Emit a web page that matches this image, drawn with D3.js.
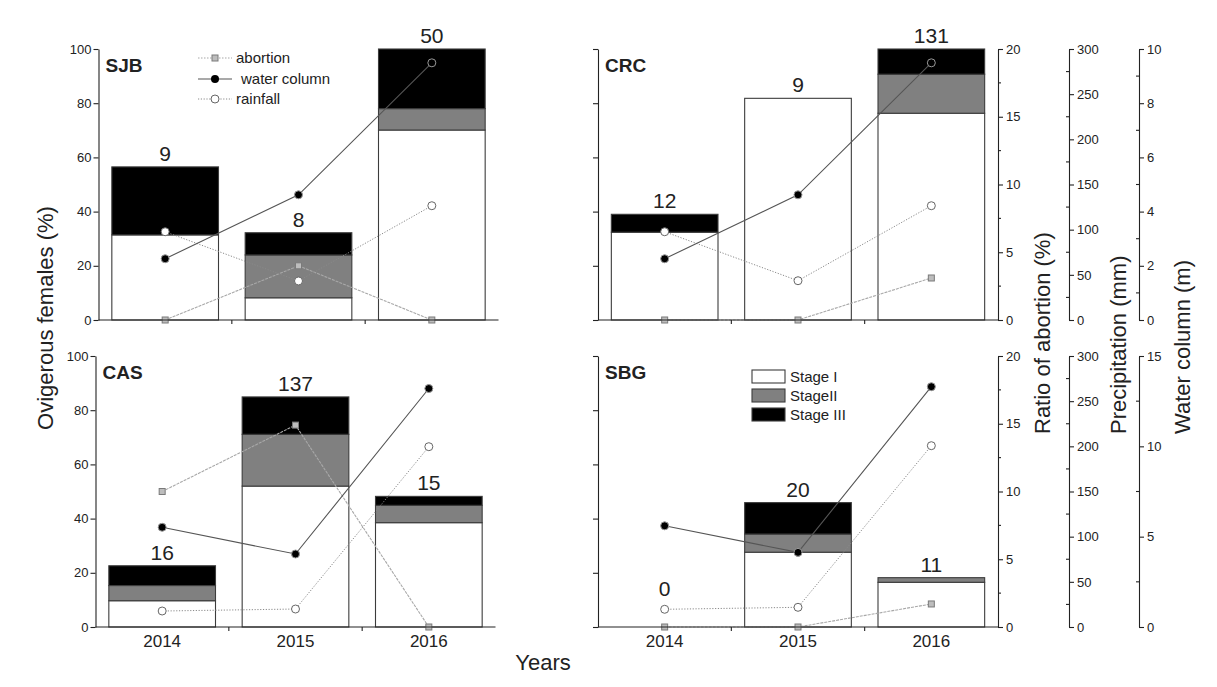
<!DOCTYPE html>
<html>
<head>
<meta charset="utf-8">
<script src="https://cdn.jsdelivr.net/npm/d3@7"></script>
<style>
  body { margin: 0; background: #fff; }
  text { font-family: "Liberation Sans", Arial, Helvetica, sans-serif; fill: #222; }
</style>
</head>
<body>
<svg id="chart" width="1217" height="687"></svg>
<script>
// ---- data -------------------------------------------------------------
const years = ["2014", "2015", "2016"];
const sites = ["SJB", "CRC", "CAS", "SBG"];

// ovigerous females (%) by embryonic stage, one row per site
const stageI   = [[31.4, 8.2, 70.1], [32.4, 81.8, 76.3], [9.7, 52.0, 38.5], [0, 27.6, 16.5]];
const stageII  = [[0, 15.8, 7.9],    [0, 0, 14.4],      [5.6, 19.1, 6.4],  [0, 6.7, 1.7]];
const stageIII = [[25.1, 8.2, 22.0], [6.6, 0, 9.3],     [7.3, 13.8, 3.3],  [0, 11.6, 0]];

// number of ovigerous females sampled
const sampleN = [[9, 8, 50], [12, 9, 131], [16, 137, 15], [0, 20, 11]];

// ratio of abortion (%), precipitation (mm) and water column (m)
const abortion    = [[0, 4.0, 0], [0, 0, 3.1], [10.0, 14.9, 0], [0, 0, 1.7]];
const rainfall    = [[97.7, 43.2, 126.5], [97.7, 43.5, 126.5], [17.7, 19.9, 199.6], [19.6, 21.8, 200.7]];
const waterColumn = [[2.26, 4.62, 9.49], [2.26, 4.62, 9.49], [5.52, 4.04, 13.2], [5.6, 4.13, 13.3]];

// axis ticks
const femaleTicks = [0, 20, 40, 60, 80, 100];
const ratioTicks = [0, 5, 10, 15, 20];
const precipTicks = [0, 50, 100, 150, 200, 250, 300];
const waterTicksTop = [0, 2, 4, 6, 8, 10];
const waterTicksBottom = [0, 5, 10, 15];

const stageNames = ["Stage I", "StageII", "Stage III"];
const stageColors = ["#ffffff", "#808080", "#000000"];

// ---- layout -----------------------------------------------------------
const W = 400, H = 271;
const panels = [
  { site: 0, x0: 98.5, y0: 49,  left: true,  bottom: false },
  { site: 1, x0: 598,  y0: 49,  left: false, bottom: false },
  { site: 2, x0: 95.5, y0: 356, left: true,  bottom: true },
  { site: 3, x0: 598,  y0: 356, left: false, bottom: true }
];
const precipX = 1069, waterX = 1139;

const svg = d3.select("#chart");
const axisColor = "#222";

function styleAxis(g, fontSize) {
  g.selectAll("path, line").attr("stroke", axisColor).attr("stroke-width", 1.1);
  g.selectAll("text").attr("font-size", fontSize).attr("fill", "#333")
    .style("font-family", '"Liberation Sans", Arial, sans-serif');
}

function minorTicks(g, scale, values, xPos, len) {
  g.selectAll(null).data(values).enter().append("line")
    .attr("x1", xPos).attr("x2", xPos + len)
    .attr("y1", d => scale(d)).attr("y2", d => scale(d))
    .attr("stroke", axisColor).attr("stroke-width", 1.1);
}

panels.forEach(p => {
  const s = p.site;
  const g = svg.append("g");
  const x = d3.scaleBand().domain(years).range([p.x0, p.x0 + W]).paddingInner(0.2).paddingOuter(0.1);
  const y = d3.scaleLinear().domain([0, 100]).range([p.y0 + H, p.y0]);
  const yAb = d3.scaleLinear().domain([0, 20]).range([p.y0 + H, p.y0]);
  const yPr = d3.scaleLinear().domain([0, 300]).range([p.y0 + H, p.y0]);
  const wTicks = p.bottom ? waterTicksBottom : waterTicksTop;
  const yWc = d3.scaleLinear().domain([0, d3.max(wTicks)]).range([p.y0 + H, p.y0]);

  // stacked bars
  const rows = years.map((yr, i) => ({ year: yr, s1: stageI[s][i], s2: stageII[s][i], s3: stageIII[s][i] }));
  const stacked = d3.stack().keys(["s1", "s2", "s3"])(rows);
  stacked.forEach((layer, li) => {
    g.selectAll(null).data(layer.filter(d => d[1] - d[0] > 0)).enter().append("rect")
      .attr("x", d => x(d.data.year))
      .attr("width", x.bandwidth())
      .attr("y", d => y(d[1]))
      .attr("height", d => y(d[0]) - y(d[1]))
      .attr("fill", stageColors[li])
      .attr("stroke", "#3c3c3c").attr("stroke-width", 1.1);
  });

  // sample sizes above bars
  const totals = rows.map(r => r.s1 + r.s2 + r.s3);
  g.selectAll(null).data(years).enter().append("text")
    .attr("x", d => x(d) + x.bandwidth() / 2)
    .attr("y", (d, i) => Math.min(y(totals[i]), y(0) - 25) - 6)
    .attr("text-anchor", "middle").attr("font-size", 21)
    .text((d, i) => sampleN[s][i]);

  // lines
  const cx = d => x(d) + x.bandwidth() / 2;
  const lineOf = (vals, sc) => d3.line().x((d, i) => cx(years[i])).y(d => sc(d))(vals);

  g.append("path").attr("d", lineOf(abortion[s], yAb))
    .attr("fill", "none").attr("stroke", "#a8a8a8").attr("stroke-width", 1.1).attr("stroke-dasharray", "3,1");
  g.append("path").attr("d", lineOf(rainfall[s], yPr))
    .attr("fill", "none").attr("stroke", "#8a8a8a").attr("stroke-width", 1).attr("stroke-dasharray", "1.2,1.6");
  g.append("path").attr("d", lineOf(waterColumn[s], yWc))
    .attr("fill", "none").attr("stroke", "#555").attr("stroke-width", 1.1);

  // markers
  g.selectAll(null).data(abortion[s]).enter().append("rect")
    .attr("x", (d, i) => cx(years[i]) - 3).attr("y", d => yAb(d) - 3)
    .attr("width", 6).attr("height", 6)
    .attr("fill", "#bdbdbd").attr("stroke", "#7a7a7a").attr("stroke-width", 1);
  g.selectAll(null).data(rainfall[s]).enter().append("circle")
    .attr("cx", (d, i) => cx(years[i])).attr("cy", d => yPr(d)).attr("r", 4)
    .attr("fill", "#fff").attr("stroke", "#666").attr("stroke-width", 1);
  g.selectAll(null).data(waterColumn[s]).enter().append("circle")
    .attr("cx", (d, i) => cx(years[i])).attr("cy", d => yWc(d)).attr("r", 4)
    .attr("fill", "#000").attr("stroke", "#9a9a9a").attr("stroke-width", 1);

  // left axis
  const ax = g.append("g").attr("transform", `translate(${p.x0},0)`)
    .call(d3.axisLeft(y).tickValues(femaleTicks).tickSize(5).tickSizeOuter(0).tickPadding(2)
      .tickFormat(p.left ? d3.format("d") : ""));
  styleAxis(ax, 13);

  // x axis: baseline with ticks between the years
  const base = p.y0 + H;
  g.append("line").attr("x1", p.x0).attr("x2", p.x0 + W).attr("y1", base).attr("y2", base)
    .attr("stroke", axisColor).attr("stroke-width", 1.1);
  g.selectAll(null).data(years.slice(1)).enter().append("line")
    .attr("x1", d => x(d) - x.step() * x.paddingInner() / 2)
    .attr("x2", d => x(d) - x.step() * x.paddingInner() / 2)
    .attr("y1", base).attr("y2", base + 4)
    .attr("stroke", axisColor).attr("stroke-width", 1.1);
  if (p.bottom) {
    g.selectAll(null).data(years).enter().append("text")
      .attr("x", d => cx(d)).attr("y", base + 20)
      .attr("text-anchor", "middle").attr("font-size", 17).attr("fill", "#222")
      .text(d => d);
  }

  // site name
  g.append("text").attr("x", p.x0 + 7).attr("y", p.y0 + 23)
    .attr("font-size", 19).attr("font-weight", "bold").attr("fill", "#111")
    .text(sites[s]);

  // secondary axes on the right-hand panels
  if (!p.left) {
    const rx = p.x0 + W;
    const a1 = g.append("g").attr("transform", `translate(${rx},0)`)
      .call(d3.axisRight(yAb).tickValues(ratioTicks).tickSize(5).tickSizeOuter(0).tickPadding(3));
    styleAxis(a1, 13);
    minorTicks(g, yAb, [2.5, 7.5, 12.5, 17.5], rx, 3);

    const a2 = g.append("g").attr("transform", `translate(${precipX},0)`)
      .call(d3.axisRight(yPr).tickValues(precipTicks).tickSize(5).tickSizeOuter(0).tickPadding(3));
    styleAxis(a2, 13);
    minorTicks(g, yPr, [25, 75, 125, 175, 225, 275], precipX, -3);

    const wMinor = p.bottom ? [2.5, 7.5, 12.5] : [1, 3, 5, 7, 9];
    const a3 = g.append("g").attr("transform", `translate(${waterX},0)`)
      .call(d3.axisRight(yWc).tickValues(wTicks).tickSize(5).tickSizeOuter(0).tickPadding(3));
    styleAxis(a3, 13);
    minorTicks(g, yWc, wMinor, waterX, -3);
  }
});

// ---- legend: environmental series (SJB panel) ---------------------------
const lg = svg.append("g");
const legendRows = [
  { label: "abortion", y: 58, kind: "abortion" },
  { label: "water column", y: 79, kind: "water" },
  { label: "rainfall", y: 99, kind: "rain" }
];
legendRows.forEach(r => {
  const line = lg.append("line").attr("x1", 198).attr("x2", 232).attr("y1", r.y).attr("y2", r.y);
  if (r.kind === "abortion") {
    line.attr("stroke", "#a8a8a8").attr("stroke-width", 1.1).attr("stroke-dasharray", "1.5,1.5");
    lg.append("rect").attr("x", 212).attr("y", r.y - 3).attr("width", 6).attr("height", 6)
      .attr("fill", "#bdbdbd").attr("stroke", "#7a7a7a");
  } else if (r.kind === "water") {
    line.attr("stroke", "#555").attr("stroke-width", 1.1);
    lg.append("circle").attr("cx", 215).attr("cy", r.y).attr("r", 4).attr("fill", "#000");
  } else {
    line.attr("stroke", "#8a8a8a").attr("stroke-width", 1).attr("stroke-dasharray", "1.2,1.6");
    lg.append("circle").attr("cx", 215).attr("cy", r.y).attr("r", 4)
      .attr("fill", "#fff").attr("stroke", "#666");
  }
  lg.append("text").attr("x", r.kind === "water" ? 241 : 236).attr("y", r.y + 5)
    .attr("font-size", 15).text(r.label);
});

// ---- legend: embryonic stages (SBG panel) -------------------------------
const sg = svg.append("g");
stageNames.forEach((name, i) => {
  const top = 370 + i * 19;
  sg.append("rect").attr("x", 752).attr("y", top).attr("width", 33).attr("height", 13)
    .attr("fill", stageColors[i]).attr("stroke", "#3c3c3c").attr("stroke-width", 1.1);
  sg.append("text").attr("x", 790).attr("y", top + 12).attr("font-size", 15).text(name);
});

// ---- axis titles ------------------------------------------------------
svg.append("text").attr("transform", "translate(53,318) rotate(-90)")
  .attr("text-anchor", "middle").attr("font-size", 22).text("Ovigerous females (%)");
svg.append("text").attr("x", 543).attr("y", 670)
  .attr("text-anchor", "middle").attr("font-size", 22).text("Years");
svg.append("text").attr("transform", "translate(1050,434) rotate(-90)")
  .attr("text-anchor", "start").attr("font-size", 22).text("Ratio of abortion (%)");
svg.append("text").attr("transform", "translate(1126,434) rotate(-90)")
  .attr("text-anchor", "start").attr("font-size", 22).text("Precipitation (mm)");
svg.append("text").attr("transform", "translate(1190,434) rotate(-90)")
  .attr("text-anchor", "start").attr("font-size", 22).text("Water column (m)");
</script>
</body>
</html>
